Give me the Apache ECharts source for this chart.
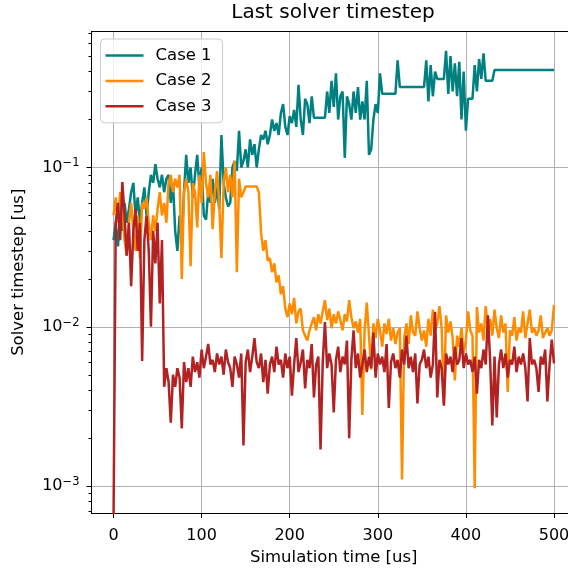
<!DOCTYPE html>
<html>
<head>
<meta charset="utf-8">
<script src="https://cdn.jsdelivr.net/npm/echarts@6/dist/echarts.min.js"></script>
<style>
  html, body { margin: 0; padding: 0; background: #ffffff; }
  #chart { width: 568px; height: 569px; }
</style>
</head>
<body>
<div id="chart"></div>
<script>
// Simulation output times [us]
const simTime = [
  0, 2.5, 5, 7.5, 10, 12.5, 15, 17.5, 20, 22.5, 25, 27.5, 30, 32.5, 35, 37.5, 40, 42.5, 45, 47.5,
  50, 52.5, 55, 57.5, 60, 62.5, 65, 67.5, 70, 72.5, 75, 77.5, 80, 82.5, 85, 87.5, 90, 92.5, 95, 97.5,
  100, 102.5, 105, 107.5, 110, 112.5, 115, 117.5, 120, 122.5, 125, 127.5, 130, 132.5, 135, 137.5, 140, 142.5, 145, 147.5,
  150, 152.5, 155, 157.5, 160, 162.5, 165, 167.5, 170, 172.5, 175, 177.5, 180, 182.5, 185, 187.5, 190, 192.5, 195, 197.5,
  200, 202.5, 205, 207.5, 210, 212.5, 215, 217.5, 220, 222.5, 225, 227.5, 230, 232.5, 235, 237.5, 240, 242.5, 245, 247.5,
  250, 252.5, 255, 257.5, 260, 262.5, 265, 267.5, 270, 272.5, 275, 277.5, 280, 282.5, 285, 287.5, 290, 292.5, 295, 297.5,
  300, 302.5, 305, 307.5, 310, 312.5, 315, 317.5, 320, 322.5, 325, 327.5, 330, 332.5, 335, 337.5, 340, 342.5, 345, 347.5,
  350, 352.5, 355, 357.5, 360, 362.5, 365, 367.5, 370, 372.5, 375, 377.5, 380, 382.5, 385, 387.5, 390, 392.5, 395, 397.5,
  400, 402.5, 405, 407.5, 410, 412.5, 415, 417.5, 420, 422.5, 425, 427.5, 430, 432.5, 435, 437.5, 440, 442.5, 445, 447.5,
  450, 452.5, 455, 457.5, 460, 462.5, 465, 467.5, 470, 472.5, 475, 477.5, 480, 482.5, 485, 487.5, 490, 492.5, 495, 497.5,
  500
];

// Last solver timestep [us], one row per 50 us of simulation time
const case1 = [
  0.035, 0.045, 0.032, 0.05, 0.04, 0.06, 0.045, 0.055, 0.07, 0.08, 0.05, 0.065, 0.045, 0.06, 0.075, 0.05, 0.07, 0.09, 0.08, 0.105,
  0.085, 0.075, 0.09, 0.07, 0.085, 0.09, 0.06, 0.08, 0.04, 0.03, 0.05, 0.035, 0.07, 0.12, 0.08, 0.1, 0.065, 0.09, 0.12, 0.075,
  0.1, 0.05, 0.047, 0.07, 0.06, 0.085, 0.06, 0.075, 0.055, 0.16, 0.08, 0.065, 0.057, 0.06, 0.1, 0.11, 0.095, 0.17, 0.1, 0.11,
  0.13, 0.1, 0.15, 0.12, 0.14, 0.1, 0.13, 0.16, 0.15, 0.17, 0.14, 0.16, 0.2, 0.17, 0.19, 0.16, 0.22, 0.25, 0.18, 0.16,
  0.21, 0.19, 0.23, 0.18, 0.33, 0.2, 0.16, 0.27, 0.25, 0.19, 0.28, 0.205, 0.205, 0.205, 0.205, 0.205, 0.205, 0.3, 0.22, 0.35,
  0.24, 0.39, 0.2, 0.28, 0.3, 0.115, 0.28, 0.25, 0.2, 0.3, 0.22, 0.32, 0.2, 0.26, 0.2, 0.35, 0.12, 0.13, 0.2, 0.25,
  0.22, 0.39, 0.29, 0.29, 0.29, 0.29, 0.29, 0.29, 0.29, 0.47, 0.32, 0.32, 0.32, 0.32, 0.32, 0.32, 0.32, 0.32, 0.32, 0.32,
  0.32, 0.32, 0.47, 0.26, 0.44, 0.28, 0.4, 0.36, 0.36, 0.36, 0.36, 0.54, 0.29, 0.5, 0.3, 0.45, 0.28, 0.46, 0.2, 0.4,
  0.17, 0.27, 0.27, 0.27, 0.44, 0.3, 0.48, 0.36, 0.52, 0.35, 0.35, 0.35, 0.35, 0.41, 0.41, 0.41, 0.41, 0.41, 0.41, 0.41,
  0.41, 0.41, 0.41, 0.41, 0.41, 0.41, 0.41, 0.41, 0.41, 0.41, 0.41, 0.41, 0.41, 0.41, 0.41, 0.41, 0.41, 0.41, 0.41, 0.41,
  0.41
];

const case2 = [
  0.05, 0.065, 0.045, 0.07, 0.06, 0.035, 0.028, 0.045, 0.06, 0.04, 0.03, 0.05, 0.027, 0.06, 0.055, 0.065, 0.045, 0.035, 0.05, 0.04,
  0.055, 0.07, 0.05, 0.06, 0.045, 0.08, 0.09, 0.07, 0.085, 0.075, 0.09, 0.02, 0.07, 0.085, 0.07, 0.024, 0.08, 0.07, 0.042, 0.09,
  0.06, 0.125, 0.08, 0.065, 0.09, 0.041, 0.07, 0.095, 0.06, 0.027, 0.08, 0.1, 0.07, 0.09, 0.065, 0.11, 0.022, 0.085, 0.065, 0.07,
  0.076, 0.076, 0.076, 0.076, 0.076, 0.076, 0.07, 0.039, 0.03, 0.035, 0.026, 0.027, 0.022, 0.025, 0.019, 0.021, 0.016, 0.018, 0.013, 0.0115,
  0.014, 0.012, 0.0152, 0.0105, 0.0125, 0.013, 0.0095, 0.0088, 0.0082, 0.0095, 0.0105, 0.0115, 0.0095, 0.012, 0.0105, 0.0125, 0.0147, 0.011, 0.013, 0.0098,
  0.012, 0.0105, 0.0125, 0.011, 0.0095, 0.012, 0.0108, 0.0147, 0.0115, 0.0098, 0.0108, 0.0092, 0.0112, 0.0028, 0.0095, 0.0142, 0.0088, 0.0054, 0.0105, 0.0085,
  0.0112, 0.0095, 0.0075, 0.0105, 0.009, 0.0112, 0.0082, 0.0098, 0.0078, 0.0092, 0.0098, 0.0011, 0.0085, 0.0105, 0.0078, 0.0118, 0.0092, 0.0088, 0.0125, 0.0098,
  0.0082, 0.0095, 0.0075, 0.0112, 0.0088, 0.0128, 0.0095, 0.0105, 0.0135, 0.0098, 0.0033, 0.0118, 0.0092, 0.0108, 0.0085, 0.0046, 0.0088, 0.0075, 0.0098, 0.0068,
  0.0082, 0.0125, 0.0095, 0.0088, 0.00097, 0.0133, 0.0092, 0.0105, 0.0082, 0.0135, 0.0095, 0.0112, 0.0088, 0.0128, 0.0098, 0.0085, 0.0118, 0.0092, 0.0105, 0.0039,
  0.0095, 0.0088, 0.0115, 0.0082, 0.0098, 0.0092, 0.0125, 0.0085, 0.0105, 0.0128, 0.0092, 0.0098, 0.0088, 0.0095, 0.0118, 0.0085, 0.0092, 0.0098, 0.0088, 0.0095,
  0.0137
];

const case3 = [
  0.0006, 0.045, 0.06, 0.035, 0.081, 0.05, 0.028, 0.045, 0.018, 0.04, 0.055, 0.03, 0.045, 0.0061, 0.035, 0.05, 0.03, 0.01, 0.04, 0.025,
  0.045, 0.014, 0.035, 0.0042, 0.0055, 0.0045, 0.0025, 0.005, 0.0042, 0.0055, 0.0048, 0.0023, 0.006, 0.0045, 0.0055, 0.0042, 0.0065, 0.0052, 0.006, 0.0048,
  0.0072, 0.0055, 0.0065, 0.0078, 0.0058, 0.0062, 0.0052, 0.0068, 0.0058, 0.0065, 0.005, 0.0072, 0.006, 0.0055, 0.0042, 0.0065, 0.0058, 0.0048, 0.0068, 0.0018,
  0.006, 0.0072, 0.0052, 0.0065, 0.0085, 0.006, 0.0055, 0.0068, 0.0045, 0.0062, 0.0038, 0.0058, 0.0065, 0.0052, 0.0075, 0.0058, 0.0062, 0.0048, 0.0068, 0.0055,
  0.0065, 0.0037, 0.0058, 0.0085, 0.0052, 0.006, 0.0072, 0.0041, 0.0062, 0.0055, 0.0078, 0.0036, 0.0058, 0.0065, 0.0017, 0.006, 0.0107, 0.0055, 0.0068, 0.0058,
  0.0029, 0.0062, 0.0075, 0.0052, 0.0065, 0.0058, 0.0082, 0.002, 0.0062, 0.0095, 0.0055, 0.0068, 0.0048, 0.0058, 0.0072, 0.0052, 0.0065, 0.0055, 0.0092, 0.0048,
  0.0068, 0.0058, 0.0065, 0.0052, 0.0078, 0.0031, 0.006, 0.0068, 0.0055, 0.0062, 0.0048, 0.0072, 0.0058, 0.0088, 0.0055, 0.0065, 0.0052, 0.0068, 0.0033, 0.0058,
  0.0062, 0.0072, 0.0055, 0.0065, 0.0048, 0.0058, 0.0124, 0.0036, 0.0062, 0.0055, 0.0032, 0.0068, 0.0058, 0.0065, 0.0052, 0.0075, 0.0058, 0.0062, 0.0085, 0.0055,
  0.0068, 0.0058, 0.0062, 0.0052, 0.0065, 0.0038, 0.0062, 0.0055, 0.0072, 0.0058, 0.0118, 0.0062, 0.0024, 0.0065, 0.0027, 0.0058, 0.0072, 0.0055, 0.0068, 0.0048,
  0.0062, 0.0058, 0.0075, 0.0052, 0.0065, 0.0058, 0.0068, 0.0055, 0.0034, 0.0085, 0.0058, 0.0062, 0.0055, 0.0039, 0.0065, 0.0058, 0.0072, 0.0034, 0.0058, 0.0083,
  0.0059
];

const seriesNames = ['Case 1', 'Case 2', 'Case 3'];
const seriesColors = ['#008080', '#ff8c00', '#b22222'];

// Axis ticks
const xTicks = [0, 100, 200, 300, 400, 500];
const yMajorTicks = [0.001, 0.01, 0.1];
const yMinorTicks = [
  0.0007, 0.0008, 0.0009,
  0.002, 0.003, 0.004, 0.005, 0.006, 0.007, 0.008, 0.009,
  0.02, 0.03, 0.04, 0.05, 0.06, 0.07, 0.08, 0.09,
  0.2, 0.3, 0.4, 0.5, 0.6, 0.7
];
const xRange = [-25, 525];
const yRange = [0.000678, 0.714];

function pairs(xs, ys) {
  return ys.map((v, i) => [xs[i], v]);
}

const chart = echarts.init(document.getElementById('chart'), null, { renderer: 'canvas' });

const fontFamily = '"DejaVu Sans", sans-serif';
// legend swatch: a plain line segment
const lineIcon = 'path://M0,0H38V2.5H0Z';
const frameLine = { show: true, onZero: false, lineStyle: { color: '#000000', width: 1 } };

chart.setOption({
  animation: false,
  backgroundColor: '#ffffff',
  textStyle: { fontFamily: fontFamily },
  title: {
    text: 'Last solver timestep',
    left: 333,
    top: 3,
    padding: 0,
    textAlign: 'center',
    textStyle: { fontFamily: fontFamily, fontSize: 20, fontWeight: 'normal', color: '#000000' }
  },
  grid: {
    left: 91.5,
    top: 31.5,
    width: 484.5,
    height: 481.5,
    outerBoundsMode: 'none',
    containLabel: false,
    show: false
  },
  legend: {
    orient: 'vertical',
    left: 100.5,
    top: 39,
    padding: [7, 11, 7, 5],
    icon: lineIcon,
    itemWidth: 38,
    itemHeight: 2.5,
    itemGap: 6.4,
    backgroundColor: 'rgba(255,255,255,0.8)',
    borderColor: '#cccccc',
    borderWidth: 1,
    borderRadius: 4,
    textStyle: { fontFamily: fontFamily, fontSize: 16.5, lineHeight: 19, color: '#000000', padding: [0, 0, 0, 7] },
    data: seriesNames
  },
  xAxis: [
    {
      type: 'value',
      min: xRange[0],
      max: xRange[1],
      position: 'bottom',
      name: 'Simulation time [us]',
      nameLocation: 'middle',
      nameGap: 34,
      nameTextStyle: { fontFamily: fontFamily, fontSize: 16.5, color: '#000000' },
      axisLine: frameLine,
      axisTick: { show: true, length: 5, customValues: xTicks, lineStyle: { color: '#000000', width: 1 } },
      axisLabel: { customValues: xTicks, margin: 15, fontFamily: fontFamily, fontSize: 16, color: '#000000' },
      splitLine: { show: true, lineStyle: { color: '#b0b0b0', width: 1 } }
    },
    {
      // upper frame edge
      type: 'value',
      min: xRange[0],
      max: xRange[1],
      position: 'top',
      axisLine: frameLine,
      axisTick: { show: false },
      axisLabel: { show: false },
      splitLine: { show: false }
    }
  ],
  yAxis: [
    {
      type: 'log',
      logBase: 10,
      min: yRange[0],
      max: yRange[1],
      position: 'left',
      name: 'Solver timestep [us]',
      nameLocation: 'middle',
      nameGap: 64,
      nameTextStyle: { fontFamily: fontFamily, fontSize: 16.5, color: '#000000' },
      axisLine: frameLine,
      axisTick: { show: true, length: 5, customValues: yMajorTicks, lineStyle: { color: '#000000', width: 1 } },
      axisLabel: {
        customValues: yMajorTicks,
        margin: 12,
        formatter: function (v) {
          const e = Math.round(Math.log10(v));
          return '{b|10}{s|' + (e < 0 ? '\u2212' : '') + Math.abs(e) + '}';
        },
        rich: {
          b: { fontFamily: fontFamily, fontSize: 16, color: '#000000' },
          s: { fontFamily: fontFamily, fontSize: 11.5, color: '#000000', padding: [0, 0, 8, 0] }
        }
      },
      splitLine: { show: true, lineStyle: { color: '#b0b0b0', width: 1 } }
    },
    {
      // minor ticks of the log axis
      type: 'log',
      logBase: 10,
      min: yRange[0],
      max: yRange[1],
      position: 'left',
      axisLine: { show: false, onZero: false },
      axisTick: { show: true, length: 3, customValues: yMinorTicks, lineStyle: { color: '#000000', width: 1 } },
      axisLabel: { show: false },
      splitLine: { show: false }
    }
  ],
  series: [
    {
      name: seriesNames[0], type: 'line', xAxisIndex: 0, yAxisIndex: 0, symbol: 'none', showSymbol: false,
      color: seriesColors[0], lineStyle: { width: 2.5, color: seriesColors[0] },
      data: pairs(simTime, case1)
    },
    {
      name: seriesNames[1], type: 'line', xAxisIndex: 0, yAxisIndex: 0, symbol: 'none', showSymbol: false,
      color: seriesColors[1], lineStyle: { width: 2.5, color: seriesColors[1] },
      data: pairs(simTime, case2)
    },
    {
      name: seriesNames[2], type: 'line', xAxisIndex: 0, yAxisIndex: 0, symbol: 'none', showSymbol: false,
      color: seriesColors[2], lineStyle: { width: 2.5, color: seriesColors[2] },
      data: pairs(simTime, case3)
    }
  ]
});
</script>
</body>
</html>
